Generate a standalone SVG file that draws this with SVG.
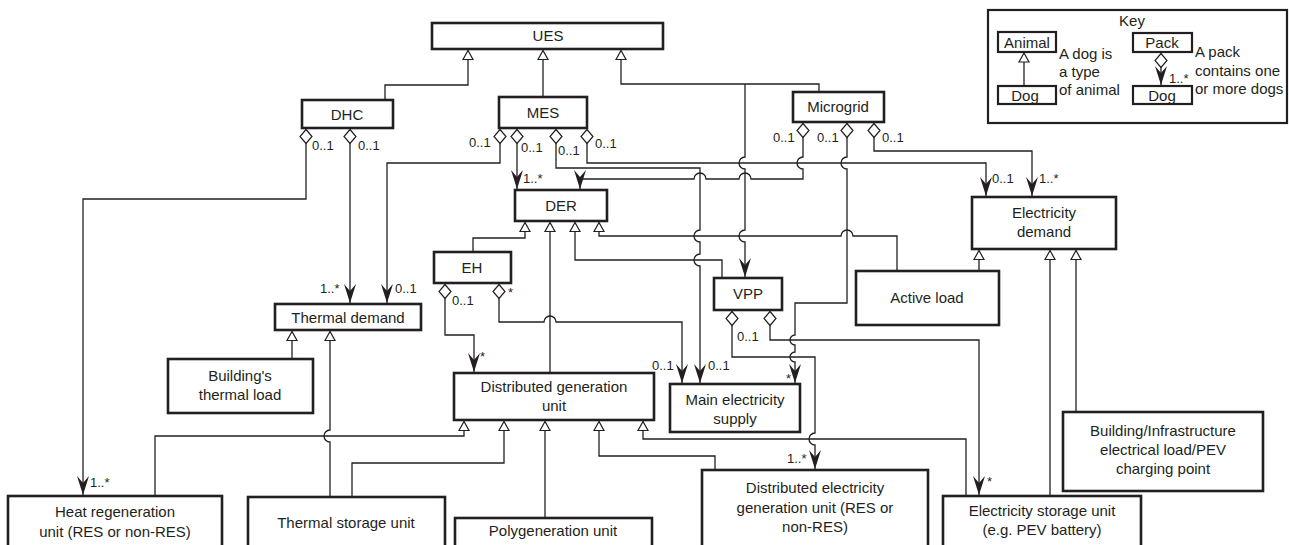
<svg xmlns="http://www.w3.org/2000/svg" width="1289" height="545" viewBox="0 0 1289 545">
  <style>
    .box{fill:#fff;stroke:#231f20;stroke-width:2.6}
    .kbox{fill:#fff;stroke:#231f20;stroke-width:2.2}
    text{font-family:"Liberation Sans",Arial,Helvetica,sans-serif;fill:#231f20}
    .t{font-size:15px;text-anchor:middle}
    .m{font-size:13px}
    .k{font-size:15px}
    .c{fill:none;stroke:#231f20;stroke-width:1.3}
    .gen{marker-end:url(#tri)}
    .agg{marker-start:url(#dia);marker-end:url(#arw)}
    .to{marker-end:url(#arw)}
  </style>
  <defs>
    <!-- hollow triangle: generalisation -->
    <marker id="tri" markerUnits="userSpaceOnUse" orient="auto" markerWidth="12" markerHeight="12" style="overflow:visible">
      <path d="M0,0 L-9,-5 L-9,5 Z" fill="#fff" stroke="#231f20" stroke-width="1.2"/>
    </marker>
    <!-- filled barbed arrowhead: navigable end of an aggregation -->
    <marker id="arw" markerUnits="userSpaceOnUse" orient="auto" markerWidth="20" markerHeight="14" style="overflow:visible">
      <path d="M0,0 L-19,-6 L-12,0 L-19,6 Z" fill="#231f20"/>
    </marker>
    <!-- hollow diamond: aggregate end -->
    <marker id="dia" markerUnits="userSpaceOnUse" orient="auto" markerWidth="16" markerHeight="14" style="overflow:visible">
      <path d="M0,0 L7,-6 L14,0 L7,6 Z" fill="#fff" stroke="#231f20" stroke-width="1.2"/>
    </marker>
  </defs>

  <rect x="0" y="0" width="1289" height="545" fill="#fff"/>

  <g id="connectors">
    <!-- generalisations -->
    <path class="c gen" d="M385,100 V85 H468 V50.5"/>
    <path class="c gen" d="M543,97 V50.5"/>
    <path class="c gen" d="M819,92 V84 H621 V50.5"/>
    <path class="c gen" d="M473,252 V238 H525 V222.5"/>
    <path class="c gen" d="M550,373 V222.5"/>
    <path class="c gen" d="M722,278 V260 H575 V222.5"/>
    <path class="c gen" d="M897,271 V236 H853 A6,6 0 0 0 841,236 H599 V222.5"/>
    <path class="c gen" d="M979,271 V250.5"/>
    <path class="c gen" d="M1050,496 V250.5"/>
    <path class="c gen" d="M1076,412 V250.5"/>
    <path class="c gen" d="M292,359 V331.5"/>
    <path class="c gen" d="M330,497 V442 A6,6 0 0 1 330,430 V331.5"/>
    <path class="c gen" d="M155,496 V436 H464 V421.5"/>
    <path class="c gen" d="M352,497 V463 H504 V421.5"/>
    <path class="c gen" d="M545,518 V421.5"/>
    <path class="c gen" d="M715,470 V456 H599 V421.5"/>
    <path class="c gen" d="M966,496 V439 H643 V421.5"/>

    <!-- branch from the UES line down to VPP -->
    <path class="c to" d="M745,84 V157 A6,6 0 0 0 745,169 V230 A6,6 0 0 0 745,242 V277"/>

    <!-- aggregations -->
    <path class="c agg" d="M306,129.5 V199 H83 V495"/>
    <path class="c agg" d="M350,129.5 V303"/>
    <path class="c agg" d="M500,129.5 V163 H387 V303"/>
    <path class="c agg" d="M517,129.5 V189"/>
    <path class="c agg" d="M556,129.5 V168 H700 V230 A6,6 0 0 0 700,242 V254 A6,6 0 0 0 700,266 V383"/>
    <path class="c agg" d="M587,129.5 V163 H986 V196"/>
    <path class="c agg" d="M803,123.5 V157 A6,6 0 0 0 803,169 V179 H751 A6,6 0 0 0 739,179 H706 A6,6 0 0 0 694,179 H580 V189"/>
    <path class="c agg" d="M847,123.5 V157 A6,6 0 0 0 847,169 V303 H795 V335 A5,5 0 0 0 795,345 V352 A5,5 0 0 0 795,362 V383"/>
    <path class="c agg" d="M874,123.5 V151 H1032 V196"/>
    <path class="c agg" d="M445,284.5 V335 H474 V372"/>
    <path class="c agg" d="M499,284.5 V322 H544 A6,6 0 0 1 556,322 H682 V383"/>
    <path class="c agg" d="M732,311.5 V357 H815 V433 A6,6 0 0 0 815,445 V469"/>
    <path class="c agg" d="M770,311.5 V340 H979 V495"/>
  </g>

  <g id="node-ues"><rect class="box" x="432" y="23" width="231" height="26"/><text class="t" x="548" y="41">UES</text></g>
  <g id="node-dhc"><rect class="box" x="302" y="100" width="91" height="28"/><text class="t" x="347" y="119.5">DHC</text></g>
  <g id="node-mes"><rect class="box" x="499" y="97" width="88" height="31"/><text class="t" x="543" y="118">MES</text></g>
  <g id="node-microgrid"><rect class="box" x="793" y="92" width="91" height="30"/><text class="t" x="838" y="112">Microgrid</text></g>
  <g id="node-der"><rect class="box" x="515" y="190" width="92" height="31"/><text class="t" x="561" y="211">DER</text></g>
  <g id="node-eh"><rect class="box" x="434" y="252" width="77" height="31"/><text class="t" x="472" y="273">EH</text></g>
  <g id="node-vpp"><rect class="box" x="714" y="278" width="68" height="32"/><text class="t" x="748" y="299">VPP</text></g>
  <g id="node-active-load"><rect class="box" x="856" y="271" width="143" height="54"/><text class="t" x="927" y="303">Active load</text></g>
  <g id="node-electricity-demand"><rect class="box" x="972" y="197" width="144" height="52"/><text class="t" x="1044"><tspan x="1044" y="218">Electricity</tspan><tspan x="1044" y="237">demand</tspan></text></g>
  <g id="node-thermal-demand"><rect class="box" x="275" y="304" width="146" height="26"/><text class="t" x="348" y="322.5">Thermal demand</text></g>
  <g id="node-building-thermal-load"><rect class="box" x="168" y="359" width="145" height="54"/><text class="t" x="240"><tspan x="240" y="381">Building's</tspan><tspan x="240" y="400">thermal load</tspan></text></g>
  <g id="node-dg-unit"><rect class="box" x="454" y="373" width="200" height="47"/><text class="t" x="554"><tspan x="554" y="392">Distributed generation</tspan><tspan x="554" y="411">unit</tspan></text></g>
  <g id="node-main-supply"><rect class="box" x="670" y="384" width="130" height="48"/><text class="t" x="735"><tspan x="735" y="405">Main electricity</tspan><tspan x="735" y="424">supply</tspan></text></g>
  <g id="node-heat-regen"><rect class="box" x="8" y="496" width="214" height="60"/><text class="t" x="115"><tspan x="115" y="517">Heat regeneration</tspan><tspan x="115" y="537">unit (RES or non-RES)</tspan></text></g>
  <g id="node-thermal-storage"><rect class="box" x="248" y="497" width="197" height="60"/><text class="t" x="346" y="528">Thermal storage unit</text></g>
  <g id="node-polygen"><rect class="box" x="455" y="518" width="197" height="40"/><text class="t" x="553" y="536">Polygeneration unit</text></g>
  <g id="node-de-gen"><rect class="box" x="702" y="470" width="226" height="90"/><text class="t" x="815"><tspan x="815" y="493">Distributed electricity</tspan><tspan x="815" y="513">generation unit (RES or</tspan><tspan x="815" y="532">non-RES)</tspan></text></g>
  <g id="node-elec-storage"><rect class="box" x="943" y="496" width="198" height="60"/><text class="t" x="1042"><tspan x="1042" y="516">Electricity storage unit</tspan><tspan x="1042" y="535">(e.g. PEV battery)</tspan></text></g>
  <g id="node-building-elec-load"><rect class="box" x="1063" y="412" width="200" height="79"/><text class="t" x="1163"><tspan x="1163" y="436">Building/Infrastructure</tspan><tspan x="1163" y="455">electrical load/PEV</tspan><tspan x="1163" y="474">charging point</tspan></text></g>

  <g id="multiplicities" class="m">
    <text class="m" x="312" y="150">0..1</text>
    <text class="m" x="358" y="150">0..1</text>
    <text class="m" x="469" y="147">0..1</text>
    <text class="m" x="521" y="152">0..1</text>
    <text class="m" x="558" y="155">0..1</text>
    <text class="m" x="595" y="148">0..1</text>
    <text class="m" x="523" y="183">1..*</text>
    <text class="m" x="773" y="142">0..1</text>
    <text class="m" x="817" y="142">0..1</text>
    <text class="m" x="882" y="142">0..1</text>
    <text class="m" x="992" y="183">0..1</text>
    <text class="m" x="1039" y="183">1..*</text>
    <text class="m" x="320" y="293">1..*</text>
    <text class="m" x="395" y="293">0..1</text>
    <text class="m" x="452" y="305">0..1</text>
    <text class="m" x="508" y="297">*</text>
    <text class="m" x="480" y="361">*</text>
    <text class="m" x="652" y="370">0..1</text>
    <text class="m" x="708" y="370">0..1</text>
    <text class="m" x="786" y="383">*</text>
    <text class="m" x="737" y="341">0..1</text>
    <text class="m" x="787" y="463">1..*</text>
    <text class="m" x="90" y="487">1..*</text>
    <text class="m" x="987" y="486">*</text>
  </g>

  <g id="key">
    <rect class="kbox" x="988" y="10" width="299" height="113"/>
    <text class="k" x="1132" y="26" text-anchor="middle">Key</text>
    <path class="c gen" d="M1024,86 V53"/>
    <rect class="kbox" x="998" y="32" width="58" height="20"/>
    <text class="k" x="1027" y="47.5" text-anchor="middle">Animal</text>
    <rect class="kbox" x="998" y="86" width="58" height="18"/>
    <text class="k" x="1025" y="100.5" text-anchor="middle">Dog</text>
    <text class="k" x="1059" y="59">A dog is</text>
    <text class="k" x="1059" y="77">a type</text>
    <text class="k" x="1059" y="95">of animal</text>
    <path class="c agg" d="M1161,53.5 V85"/>
    <rect class="kbox" x="1133" y="33" width="59" height="19"/>
    <text class="k" x="1162" y="48" text-anchor="middle">Pack</text>
    <rect class="kbox" x="1133" y="86" width="59" height="18"/>
    <text class="k" x="1162" y="100.5" text-anchor="middle">Dog</text>
    <text class="m" x="1169" y="83">1..*</text>
    <text class="k" x="1195" y="57">A pack</text>
    <text class="k" x="1195" y="76">contains one</text>
    <text class="k" x="1195" y="94">or more dogs</text>
  </g>
</svg>
